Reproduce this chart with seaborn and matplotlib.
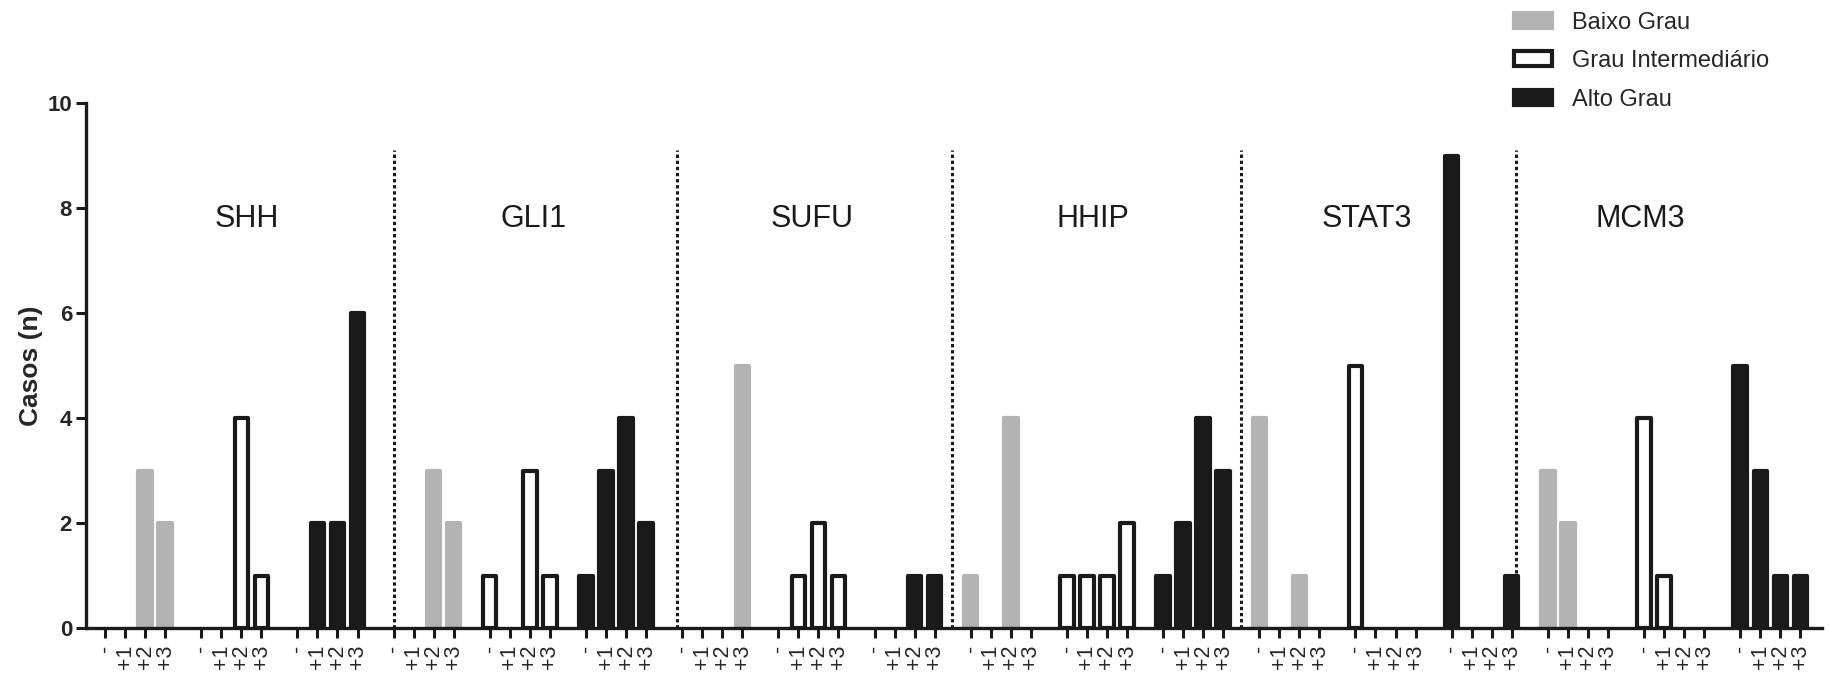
import numpy as np
import pandas as pd
import matplotlib
matplotlib.use("Agg")
import matplotlib.pyplot as plt
import seaborn as sns
from matplotlib.patches import Patch

# ---------------- data ----------------
genes = ["SHH", "GLI1", "SUFU", "HHIP", "STAT3", "MCM3"]
grades = ["Baixo Grau", "Grau Intermediário", "Alto Grau"]
scores = ["-", "+1", "+2", "+3"]

# counts per gene: rows = grades (Baixo, Intermediário, Alto), cols = scores
shh   = [[0, 0, 3, 2], [0, 0, 4, 1], [0, 2, 2, 6]]
gli1  = [[0, 0, 3, 2], [1, 0, 3, 1], [1, 3, 4, 2]]
sufu  = [[0, 0, 0, 5], [0, 1, 2, 1], [0, 0, 1, 1]]
hhip  = [[1, 0, 4, 0], [1, 1, 1, 2], [1, 2, 4, 3]]
stat3 = [[4, 0, 1, 0], [5, 0, 0, 0], [9, 0, 0, 1]]
mcm3  = [[3, 2, 0, 0], [4, 1, 0, 0], [5, 3, 1, 1]]
counts = [shh, gli1, sufu, hhip, stat3, mcm3]

# ---------------- layout ----------------
GROUP_PITCH = 4.8
label_x = [7.07, 21.37, 35.3, 49.28, 62.99, 76.6]
label_y = 7.8
divider_x = [14.40, 28.53, 42.28, 56.67, 70.41]
divider_top = 9.1

rows = []
for gi, gene in enumerate(genes):
    for ki, grade in enumerate(grades):
        for si, sc in enumerate(scores):
            pos = (gi * 3 + ki) * GROUP_PITCH + si
            rows.append(dict(gene=gene, grade=grade, score=sc, pos=pos,
                             n=counts[gi][ki][si]))
df = pd.DataFrame(rows)

sns.set_style("ticks")
plt.rcParams["font.family"] = ["Liberation Sans", "DejaVu Sans"]

fig = plt.figure(figsize=(18.3, 6.85), dpi=100)
ax = fig.add_axes([0.047, 0.0832, 0.9486, 0.7664])

GRAY = "#b3b3b3"
BLACK = "#1a1a1a"
face = {"Baixo Grau": GRAY, "Grau Intermediário": "white", "Alto Grau": BLACK}
edge = {"Baixo Grau": GRAY, "Grau Intermediário": BLACK, "Alto Grau": BLACK}

plot_df = df[df["n"] > 0]
sns.barplot(data=plot_df, x="pos", y="n", hue="grade", hue_order=grades,
            palette=face, native_scale=True, dodge=False, width=0.67,
            saturation=1, errorbar=None, legend=False, ax=ax)

for cont, grade in zip(ax.containers, [g for g in grades if g in set(plot_df["grade"])]):
    for p in cont.patches:
        p.set_facecolor(face[grade])
        p.set_edgecolor(edge[grade])
        p.set_linewidth(3)
        p.set_joinstyle("round")
        p.set_zorder(2)

# dividers
ax.vlines(divider_x, 0, divider_top, colors=BLACK, linewidth=2.2,
          linestyles=(0, (1.1, 0.9)), zorder=1)

# gene labels
for gx, gname in zip(label_x, genes):
    ax.text(gx, label_y, gname, ha="center", va="center", fontsize=22,
            color="#1a1a1a")

ax.set_xlim(-0.95, 85.68)
ax.set_ylim(0, 10)
ax.set_xticks(df["pos"].tolist())
ax.set_xticklabels(df["score"].tolist(), rotation=90, fontsize=15.5,
                   va="top", ha="center")
ax.set_yticks([0, 2, 4, 6, 8, 10])
ax.set_yticklabels(["0", "2", "4", "6", "8", "10"], fontsize=16,
                   fontweight="bold")
ax.set_xlabel("")
ax.set_ylabel("Casos (n)", fontsize=19, fontweight="bold", labelpad=3)

for s in ["top", "right"]:
    ax.spines[s].set_visible(False)
for s in ["left", "bottom"]:
    ax.spines[s].set_linewidth(2.4)
    ax.spines[s].set_color(BLACK)
ax.tick_params(axis="both", direction="out", length=7, width=2.2,
               color=BLACK)
ax.tick_params(axis="x", pad=5)
ax.tick_params(axis="y", pad=3)

handles = [Patch(facecolor=face[g], edgecolor=edge[g], linewidth=3,
                 joinstyle="round") for g in grades]
fig.legend(handles, grades, loc="upper left", bbox_to_anchor=(0.8275, 0.983),
           frameon=False, fontsize=17, handlelength=1.6, handleheight=0.6,
           labelspacing=0.7, handletextpad=0.85, borderpad=0,
           borderaxespad=0)

fig.savefig("out.png", dpi=100)
